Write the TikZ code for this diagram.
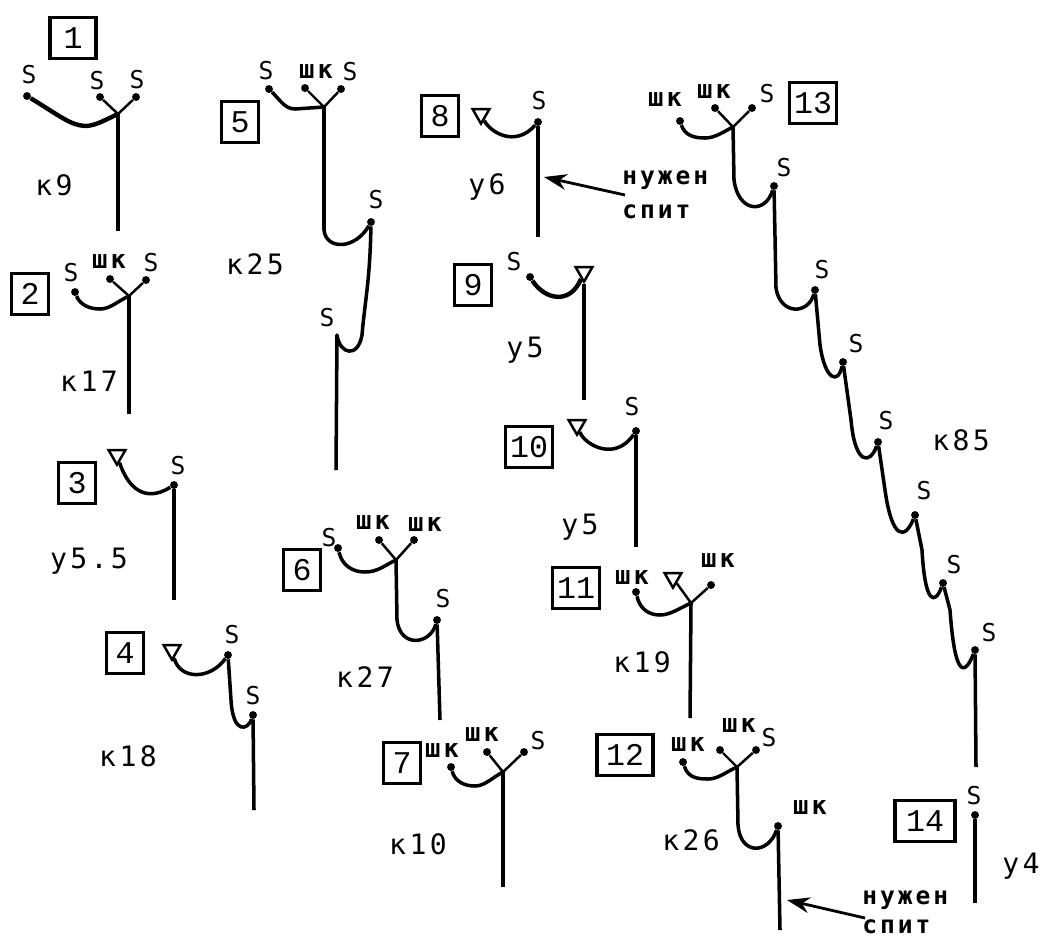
\documentclass[tikz,border=0pt]{standalone}
\usepackage{fontspec}
\setmainfont{DejaVu Sans Mono}
\newfontfamily\boxfont{Liberation Mono}
\newfontfamily\spacedfont[LetterSpace=12]{DejaVu Sans Mono}
\usetikzlibrary{shapes.geometric,arrows.meta}
\tikzset{
  rope/.style={line width=2pt,line join=round},
  heavyrope/.style={line width=2.5pt,line join=round},
  twig/.style={line width=1.4pt},
  bolt/.style={circle,fill=black,inner sep=0pt,minimum size=4.5pt},
  pin/.style={regular polygon,regular polygon sides=3,shape border rotate=180,draw=black,line width=1.4pt,fill=white,inner sep=0pt,minimum size=11pt},
  tag/.style={draw=black,line width=1.9pt,font=\boxfont\fontsize{18}{18}\selectfont,inner sep=0pt,minimum height=23pt,minimum width=#1},
  tag/.default=21pt,
  hang/.style={font=\fontsize{14}{14}\selectfont,inner sep=0pt},
  kit/.style={font=\spacedfont\bfseries\fontsize{14.5}{14.5}\selectfont,inner sep=0pt},
  grade/.style={font=\spacedfont\fontsize{16}{16}\selectfont,inner sep=0pt},
  note/.style={font=\spacedfont\bfseries\fontsize{14}{17}\selectfont,inner sep=0pt,anchor=west},
  pointer/.style={line width=1.6pt,-{Stealth[length=13pt,width=9pt]}}
}
\begin{document}
\begin{tikzpicture}[x=0.02cm,y=-0.02cm]
\useasboundingbox (0,0) rectangle (1043,941);
\draw (73,38) node[tag=26pt] (box1) {1};
\draw (29,75) node[hang] (s1a) {S};
\draw (97,81) node[hang] (s1b) {S};
\draw (137,80) node[hang] (s1c) {S};
\draw (54,185) node[grade] (gr1) {к9};
\draw (27,96) node[bolt] (b1a) {};
\draw (100,97) node[bolt] (b1b) {};
\draw (136,97) node[bolt] (b1c) {};
\coordinate (j1) at (118,114);
\coordinate (e1) at (118,231);
\draw[heavyrope] (b1a) .. controls (60,116) and (70,125) .. (85,126) .. controls (95,126) and (105,120) .. (j1);
\draw[twig] (b1b) -- (j1);
\draw[twig] (b1c) -- (j1);
\draw[rope] (j1) -- (e1);
\draw (30,294) node[tag] (box2) {2};
\draw (71,273) node[hang] (s2a) {S};
\draw (109,262) node[kit] (s2b) {шк};
\draw (151,263) node[hang] (s2c) {S};
\draw (89,381) node[grade] (gr2) {к17};
\draw (75,292) node[bolt] (b2a) {};
\draw (110,279) node[bolt] (b2b) {};
\draw (146,280) node[bolt] (b2c) {};
\coordinate (j2) at (129,296);
\coordinate (e2) at (129,414);
\draw[rope] (b2a) .. controls (80,305) and (90,309) .. (100,309) .. controls (110,309) and (118,301) .. (j2);
\draw[twig] (b2b) -- (j2);
\draw[twig] (b2c) -- (j2);
\draw[rope] (j2) -- (e2);
\draw (77,483) node[tag] (box3) {3};
\draw (178,466) node[hang] (s3a) {S};
\draw (89,561) node[grade] (gr3) {у5.5};
\draw (117,455) node[pin] (p3) {};
\draw (174,485) node[bolt] (b3) {};
\coordinate (e3) at (174,600);
\draw[rope] (p3) .. controls (128,488) and (145,503) .. (b3);
\draw[rope] (b3) -- (e3);
\draw (125,653) node[tag] (box4) {4};
\draw (232,635) node[hang] (s4a) {S};
\draw (253,696) node[hang] (s4b) {S};
\draw (128,756) node[grade] (gr4) {к18};
\draw (172,650) node[pin] (p4) {};
\draw (228,655) node[bolt] (b4a) {};
\draw (253,715) node[bolt] (b4b) {};
\coordinate (m4) at (231,700);
\coordinate (e4) at (254,810);
\draw[rope] (p4) .. controls (180,680) and (210,680) .. (b4a);
\draw[rope] (b4a) -- (m4) .. controls (233,735) and (248,730) .. (b4b);
\draw[rope] (b4b) -- (e4);
\draw (240,122) node[tag] (box5) {5};
\draw (266,71) node[hang] (s5a) {S};
\draw (316,72) node[kit] (s5b) {шк};
\draw (350,72) node[hang] (s5c) {S};
\draw (376,200) node[hang] (s5d) {S};
\draw (327,318) node[hang] (s5e) {S};
\draw (255,264) node[grade] (gr5) {к25};
\draw (269,89) node[bolt] (b5a) {};
\draw (305,88) node[bolt] (b5b) {};
\draw (341,89) node[bolt] (b5c) {};
\draw (371,222) node[bolt] (b5d) {};
\coordinate (j5) at (324,107);
\coordinate (m5a) at (324,230);
\coordinate (m5b) at (362,335);
\coordinate (t5) at (337,335);
\coordinate (e5) at (336,470);
\draw[rope] (b5a) .. controls (280,100) and (285,109) .. (295,109) -- (j5);
\draw[twig] (b5b) -- (j5);
\draw[twig] (b5c) -- (j5);
\draw[rope] (j5) -- (m5a) .. controls (326,250) and (355,250) .. (b5d);
\draw[rope] (b5d) .. controls (370,280) and (365,300) .. (m5b) .. controls (358,358) and (340,355) .. (t5) -- (e5);
\draw (302,570) node[tag] (box6) {6};
\draw (329,538) node[hang] (s6a) {S};
\draw (373,523) node[kit] (s6b) {шк};
\draw (425,525) node[kit] (s6c) {шк};
\draw (443,599) node[hang] (s6d) {S};
\draw (365,677) node[grade] (gr6) {к27};
\draw (338,548) node[bolt] (b6a) {};
\draw (379,540) node[bolt] (b6b) {};
\draw (414,540) node[bolt] (b6c) {};
\draw (437,620) node[bolt] (b6d) {};
\coordinate (j6) at (396,560);
\coordinate (m6) at (397,620);
\coordinate (e6) at (440,720);
\draw[rope] (b6a) .. controls (342,565) and (352,572) .. (365,572) .. controls (378,572) and (385,565) .. (j6);
\draw[twig] (b6b) -- (j6);
\draw[twig] (b6c) -- (j6);
\draw[rope] (j6) -- (m6) .. controls (400,648) and (430,645) .. (b6d);
\draw[rope] (b6d) -- (e6);
\draw (402,763) node[tag] (box7) {7};
\draw (442,751) node[kit] (s7a) {шк};
\draw (482,735) node[kit] (s7b) {шк};
\draw (538,741) node[hang] (s7c) {S};
\draw (418,844) node[grade] (gr7) {к10};
\draw (451,767) node[bolt] (b7a) {};
\draw (487,752) node[bolt] (b7b) {};
\draw (524,752) node[bolt] (b7c) {};
\coordinate (j7) at (503,772);
\coordinate (e7) at (503,887);
\draw[rope] (b7a) .. controls (455,782) and (465,786) .. (475,786) .. controls (485,786) and (493,777) .. (j7);
\draw[twig] (b7b) -- (j7);
\draw[twig] (b7c) -- (j7);
\draw[rope] (j7) -- (e7);
\draw (440,116) node[tag] (box8) {8};
\draw (539,101) node[hang] (s8a) {S};
\draw (487,187) node[grade] (gr8) {у6};
\draw (622,180) node[note] (n8a) {нужен};
\draw (622,212) node[note] (n8b) {спит};
\draw (481,114) node[pin] (p8) {};
\draw (538,122) node[bolt] (b8) {};
\coordinate (e8) at (538,237);
\coordinate (t8) at (625,195);
\coordinate (h8) at (544,177);
\draw[rope] (p8) .. controls (490,132) and (515,148) .. (b8);
\draw[rope] (b8) -- (e8);
\draw[pointer] (t8) -- (h8);
\draw (473,285) node[tag] (box9) {9};
\draw (514,262) node[hang] (s9a) {S};
\draw (525,350) node[grade] (gr9) {у5};
\draw (530,277) node[bolt] (b9) {};
\draw (584,272) node[pin] (p9) {};
\coordinate (e9) at (584,400);
\draw[heavyrope] (b9) .. controls (545,300) and (570,305) .. (p9);
\draw[rope] (p9) -- (e9);
\draw (529,447) node[tag=27pt] (box10) {10};
\draw (632,407) node[hang] (s10a) {S};
\draw (580,527) node[grade] (gr10) {у5};
\draw (577,425) node[pin] (p10) {};
\draw (636,431) node[bolt] (b10) {};
\coordinate (e10) at (636,547);
\draw[rope] (p10) .. controls (585,445) and (615,462) .. (b10);
\draw[rope] (b10) -- (e10);
\draw (576,588) node[tag=27pt] (box11) {11};
\draw (632,578) node[kit] (s11a) {шк};
\draw (718,561) node[kit] (s11b) {шк};
\draw (642,662) node[grade] (gr11) {к19};
\draw (636,592) node[bolt] (b11a) {};
\draw (673,578) node[pin] (p11) {};
\draw (711,585) node[bolt] (b11c) {};
\coordinate (j11) at (691,603);
\coordinate (e11) at (690,718);
\draw[rope] (b11a) .. controls (640,610) and (650,615) .. (660,615) .. controls (670,615) and (680,608) .. (j11);
\draw[twig] (p11) -- (j11);
\draw[twig] (b11c) -- (j11);
\draw[rope] (j11) -- (e11);
\draw (625,755) node[tag=32pt] (box12) {12};
\draw (688,745) node[kit] (s12a) {шк};
\draw (739,726) node[kit] (s12b) {шк};
\draw (769,738) node[hang] (s12c) {S};
\draw (810,808) node[kit] (s12d) {шк};
\draw (691,840) node[grade] (gr12) {к26};
\draw (862,900) node[note] (n12a) {нужен};
\draw (862,927) node[note] (n12b) {спит};
\draw (683,762) node[bolt] (b12a) {};
\draw (720,750) node[bolt] (b12b) {};
\draw (756,750) node[bolt] (b12c) {};
\draw (778,826) node[bolt] (b12d) {};
\coordinate (j12) at (737,767);
\coordinate (m12) at (738,825);
\coordinate (e12) at (780,930);
\coordinate (t12) at (865,918);
\coordinate (h12) at (787,900);
\draw[rope] (b12a) .. controls (688,778) and (698,779) .. (708,779) .. controls (718,779) and (726,772) .. (j12);
\draw[twig] (b12b) -- (j12);
\draw[twig] (b12c) -- (j12);
\draw[rope] (j12) -- (m12) .. controls (740,855) and (768,855) .. (b12d);
\draw[rope] (b12d) -- (e12);
\draw[pointer] (t12) -- (h12);
\draw (813,103) node[tag=27pt] (box13) {13};
\draw (665,100) node[kit] (s13a) {шк};
\draw (714,92) node[kit] (s13b) {шк};
\draw (767,94) node[hang] (s13c) {S};
\draw (784,168) node[hang] (s13d) {S};
\draw (822,270) node[hang] (s13e) {S};
\draw (856,344) node[hang] (s13f) {S};
\draw (886,421) node[hang] (s13g) {S};
\draw (924,491) node[hang] (s13h) {S};
\draw (954,565) node[hang] (s13i) {S};
\draw (989,633) node[hang] (s13j) {S};
\draw (961,440) node[grade] (gr13) {к85};
\draw (680,121) node[bolt] (b13a) {};
\draw (715,108) node[bolt] (b13b) {};
\draw (752,108) node[bolt] (b13c) {};
\draw (774,186) node[bolt] (b13d) {};
\draw (815,290) node[bolt] (b13e) {};
\draw (843,362) node[bolt] (b13f) {};
\draw (878,442) node[bolt] (b13g) {};
\draw (915,515) node[bolt] (b13h) {};
\draw (943,583) node[bolt] (b13i) {};
\draw (975,650) node[bolt] (b13j) {};
\coordinate (j13) at (733,127);
\coordinate (m13d) at (734,180);
\coordinate (m13e) at (776,288);
\coordinate (m13f) at (820,345);
\coordinate (m13g) at (851,420);
\coordinate (m13h) at (885,490);
\coordinate (m13i) at (922,550);
\coordinate (m13j) at (950,610);
\coordinate (e13) at (976,767);
\draw[rope] (b13a) .. controls (685,136) and (695,138) .. (705,138) .. controls (715,138) and (723,132) .. (j13);
\draw[twig] (b13b) -- (j13);
\draw[twig] (b13c) -- (j13);
\draw[rope] (j13) -- (m13d) .. controls (738,212) and (765,215) .. (b13d);
\draw[rope] (b13d) -- (m13e) .. controls (780,315) and (808,315) .. (b13e);
\draw[rope] (b13e) -- (m13f) .. controls (825,380) and (838,385) .. (b13f);
\draw[rope] (b13f) -- (m13g) .. controls (855,465) and (870,465) .. (b13g);
\draw[rope] (b13g) -- (m13h) .. controls (892,540) and (905,540) .. (b13h);
\draw[rope] (b13h) -- (m13i) .. controls (925,605) and (935,605) .. (b13i);
\draw[rope] (b13i) -- (m13j) .. controls (955,680) and (965,675) .. (b13j);
\draw[rope] (b13j) -- (e13);
\draw (925,821) node[tag=34pt] (box14) {14};
\draw (974,796) node[hang] (s14a) {S};
\draw (1021,866) node[grade] (gr14) {у4};
\draw (975,815) node[bolt] (b14) {};
\coordinate (e14) at (975,903);
\draw[rope] (b14) -- (e14);
\end{tikzpicture}
\end{document}
